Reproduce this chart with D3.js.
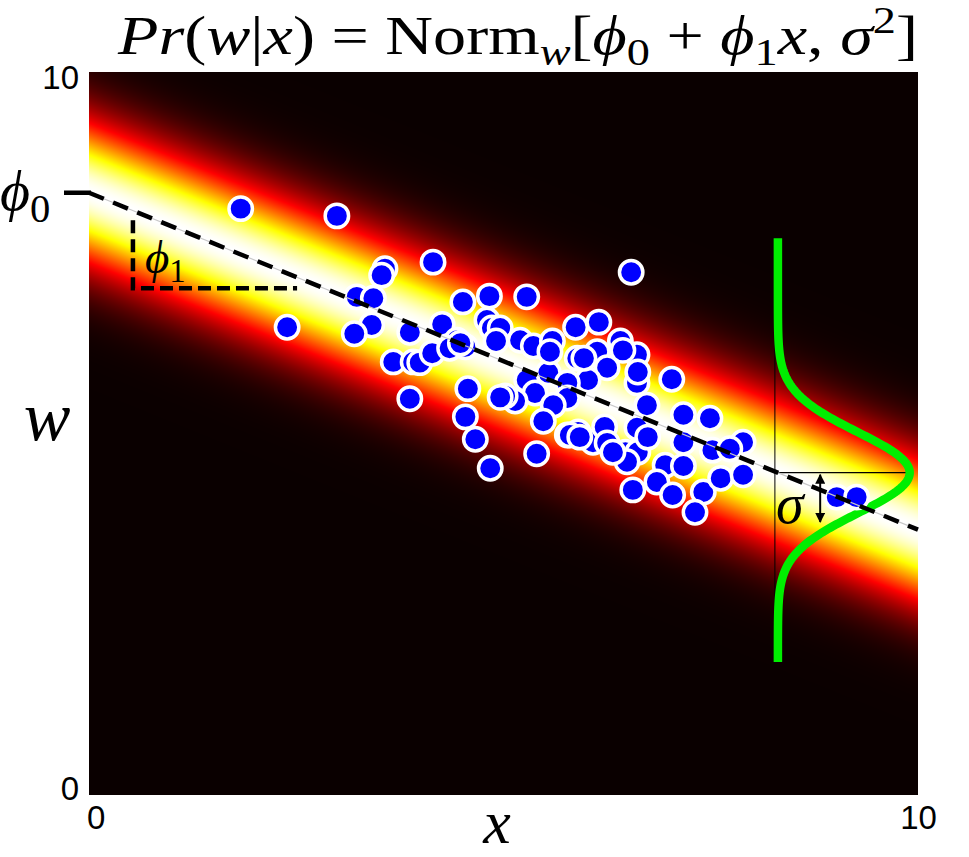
<!DOCTYPE html>
<html><head><meta charset="utf-8">
<script src="https://cdn.jsdelivr.net/npm/d3@7"></script>
<style>
html,body{margin:0;padding:0;background:#fff;}
svg{display:block;}
</style></head>
<body>
<svg id="chart" width="969" height="857"></svg>
<script>
// ---- data ----
const xTicks = [0, 10];
const wTicks = [0, 10];
const phi0 = 8.33;          // intercept
const phi1 = -0.466;        // slope
const sigma = 0.69;         // noise std for the density image
const curveSigma = 0.56;    // width of the green profile
const curveX = 8.31;        // x where the green profile is drawn
const curveHeight = 1.59;   // peak height of the green profile (x units)
const curveRange = [1.84, 7.70];
const sigmaArrowX = 8.82;
const triX = [0.53, 2.51];
const triW = [7.01, 7.95];
const xs = [1.83,2.99,4.15,3.57,3.53,2.39,3.23,3.43,3.41,3.20,
3.87,4.26,4.51,4.83,5.28,6.54,4.44,4.54,4.80,4.86,
4.96,4.91,3.67,3.91,3.99,4.14,4.35,3.87,4.57,4.54,
4.66,4.84,5.20,5.36,5.59,5.87,6.15,5.89,6.13,6.41,
6.61,6.25,6.02,6.61,6.62,7.03,5.54,5.28,5.38,5.14,
5.02,5.77,5.77,5.60,5.40,5.48,5.77,5.90,6.08,6.22,
6.25,6.47,6.62,6.61,6.73,6.74,7.17,7.49,7.17,6.95,
7.17,7.52,7.89,7.73,6.56,6.85,7.04,7.41,7.62,7.89,
7.31,6.49,6.32,5.97,9.02,9.26,4.96,5.80,5.92,4.48,
6.44,5.56];
const ws = [8.11,8.01,7.37,7.28,7.19,6.47,6.89,6.87,6.50,6.38,
6.40,6.51,6.82,6.90,6.89,7.23,6.29,6.20,6.57,6.46,
6.46,6.28,5.99,5.99,5.98,6.11,6.18,5.48,5.62,5.23,
4.92,4.52,6.29,6.21,6.28,6.47,6.54,6.04,6.13,6.28,
6.09,5.91,5.74,5.70,5.85,5.75,5.84,5.74,5.56,5.45,
5.52,5.70,5.49,5.39,4.72,5.17,4.98,5.02,4.88,5.09,
4.87,4.74,4.74,5.08,5.39,4.95,5.26,5.21,4.88,4.56,
4.55,4.77,4.88,4.79,4.22,4.33,4.15,4.19,4.38,4.43,
3.91,4.61,4.74,6.04,4.12,4.12,5.50,4.98,4.95,6.25,
6.15,6.13];

// ---- layout ----
const L = 89, R = 918, T = 72, B = 795;
const svg = d3.select("#chart");
const x = d3.scaleLinear().domain([0,10]).range([L,R]);
const y = d3.scaleLinear().domain([0,10]).range([B,T]);
const mean = v => phi0 + phi1*v;

// ---- density image (hot colormap) ----
const W = R-L, H = B-T;
const cv = document.createElement("canvas");
cv.width = W; cv.height = H;
const ctx = cv.getContext("2d");
const img = ctx.createImageData(W,H);
const cl = v => Math.max(0, Math.min(1, v));
for (let j=0;j<H;j++){
  const wv = y.invert(T+j+0.5);
  for (let i=0;i<W;i++){
    const xv = x.invert(L+i+0.5);
    const z = (wv-mean(xv))/sigma;
    const v = Math.exp(-0.5*z*z);
    const r = cl(0.04 + v*0.96/0.375), g = cl((v-0.375)/0.375), b = cl((v-0.75)/0.25);
    const k = 4*(j*W+i);
    img.data[k]=Math.round(r*255); img.data[k+1]=Math.round(g*255); img.data[k+2]=Math.round(b*255); img.data[k+3]=255;
  }
}
ctx.putImageData(img,0,0);
svg.append("image").attr("x",L).attr("y",T).attr("width",W).attr("height",H)
  .attr("preserveAspectRatio","none").attr("href", cv.toDataURL());

// ---- axes (labels only) ----
const tickFont = "'Liberation Sans Narrow','Arial Narrow',sans-serif";
const ax = svg.append("g").attr("transform",`translate(0,${B})`)
  .call(d3.axisBottom(x).tickValues(xTicks).tickSize(0).tickPadding(11).tickFormat(d3.format("d")));
const ay = svg.append("g").attr("transform",`translate(${L},0)`)
  .call(d3.axisLeft(y).tickValues(wTicks).tickSize(0).tickPadding(10).tickFormat(d3.format("d")));
[ax,ay].forEach(a=>{
  a.select(".domain").remove();
  a.selectAll("text").attr("font-family",tickFont).attr("font-size",33).attr("fill","#000");
});
ay.selectAll(".tick").filter(d=>d===10).select("text").attr("dy","0.5em");
ay.selectAll(".tick").filter(d=>d===0).select("text").attr("dy","0.15em");
ax.selectAll(".tick").filter(d=>d===0).select("text").attr("dx","0.2em");

// ---- thin guide lines at the profile ----
const g = svg.append("g");
g.append("line").attr("x1",x(curveX)-3).attr("x2",x(curveX)-3)
  .attr("y1",y(curveRange[1])).attr("y2",y(curveRange[0]))
  .attr("stroke","#000").attr("stroke-width",1);
g.append("line").attr("x1",x(curveX)-3).attr("x2",x(curveX+curveHeight)-3)
  .attr("y1",y(mean(curveX))).attr("y2",y(mean(curveX)))
  .attr("stroke","#000").attr("stroke-width",1.2);

// ---- green gaussian profile ----
const wv = d3.range(curveRange[0], curveRange[1]+0.001, 0.02);
svg.append("path")
  .attr("d", d3.line()
     .x(w => x(curveX + curveHeight*Math.exp(-0.5*Math.pow((w-mean(curveX))/curveSigma,2))))
     .y(w => y(w))(wv))
  .attr("fill","none").attr("stroke","#00ee00").attr("stroke-width",8.5)
  .attr("stroke-linejoin","round");

// ---- points ----
svg.append("g").selectAll("circle").data(xs.map((v,i)=>[v,ws[i]])).join("circle")
  .attr("cx",d=>x(d[0])).attr("cy",d=>y(d[1])).attr("r",11.7)
  .attr("fill","#0000ff").attr("stroke","#fff").attr("stroke-width",3.5);

// ---- regression line ----
svg.append("line").attr("x1",x(0)).attr("y1",y(mean(0))).attr("x2",x(10)).attr("y2",y(mean(10)))
  .attr("stroke","#c8c8c8").attr("stroke-width",1.2);
svg.append("line").attr("x1",x(0)).attr("y1",y(mean(0))).attr("x2",x(10)).attr("y2",y(mean(10)))
  .attr("stroke","#000").attr("stroke-width",4.5).attr("stroke-dasharray","16,10");
// phi0 marker
svg.append("line").attr("x1",x(0)-25).attr("x2",x(0)+2).attr("y1",y(phi0)).attr("y2",y(phi0))
  .attr("stroke","#000").attr("stroke-width",4.5);
// slope triangle
svg.append("path")
  .attr("d",`M${x(triX[0])},${y(triW[1])}L${x(triX[0])},${y(triW[0])}L${x(triX[1])},${y(triW[0])}`)
  .attr("fill","none").attr("stroke","#000").attr("stroke-width",4.5).attr("stroke-dasharray","13,6");

// ---- sigma double arrow ----
const defs = svg.append("defs");
defs.append("marker").attr("id","ah").attr("viewBox","0 0 10 10").attr("refX",9).attr("refY",5)
  .attr("markerWidth",5).attr("markerHeight",5).attr("orient","auto-start-reverse")
  .append("path").attr("d","M0,0L10,5L0,10z").attr("fill","#000");
svg.append("line").attr("x1",x(sigmaArrowX)).attr("x2",x(sigmaArrowX))
  .attr("y1",y(mean(curveX))+2).attr("y2",y(mean(curveX)-0.68))
  .attr("stroke","#000").attr("stroke-width",2)
  .attr("marker-start","url(#ah)").attr("marker-end","url(#ah)");

// ---- math text ----
const serif = "'Liberation Serif','DejaVu Serif',serif";
function mtext(xp, yp, size, parts, anchor){
  const t = svg.append("text").attr("x",xp).attr("y",yp).attr("font-family",serif)
     .attr("font-size",size).attr("text-anchor",anchor||"start").attr("fill","#000");
  parts.forEach(p=>{
    const s = t.append("tspan").text(p.t);
    if (p.i) s.attr("font-style","italic");
    if (p.sub){ s.attr("font-size",size*0.7).attr("dy",size*0.2); }
    if (p.sup){ s.attr("font-size",size*0.7).attr("dy",-size*0.38); }
    if (p.back) s.attr("dy", p.back);
  });
  return t;
}
// title
const ts = 55;
mtext(518, 54, ts, [
  {t:"Pr",i:1},{t:"("},{t:"w",i:1},{t:"|"},{t:"x",i:1},{t:") = Norm"},
  {t:"w",i:1,sub:1},{t:"[",back:-ts*0.2},{t:"ϕ",i:1},{t:"0",sub:1},{t:" + ",back:-ts*0.2},
  {t:"ϕ",i:1},{t:"1",sub:1},{t:"x",i:1,back:-ts*0.2},{t:", "},{t:"σ",i:1},{t:"2",sup:1},{t:"]",back:ts*0.38}
], "middle").attr("textLength",800).attr("lengthAdjust","spacingAndGlyphs");
// phi0
mtext(0, 210, 58, [{t:"ϕ",i:1},{t:"0",sub:1}]);
// phi1
mtext(145, 273, 47, [{t:"ϕ",i:1},{t:"1",sub:1}]);
// sigma
mtext(776, 523, 56, [{t:"σ",i:1}]);
// axis names
mtext(47, 440, 70, [{t:"w",i:1}], "middle");
mtext(497, 843, 62, [{t:"x",i:1}], "middle");
</script>
</body></html>
